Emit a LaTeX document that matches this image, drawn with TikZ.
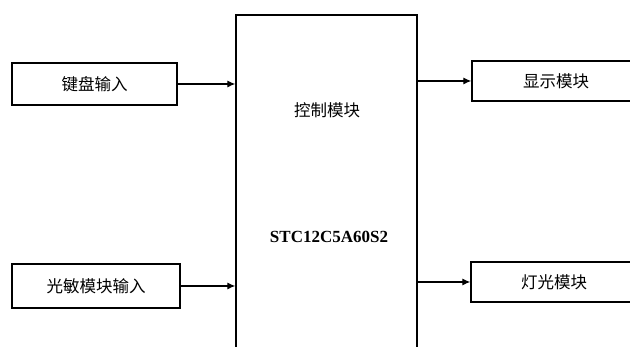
\documentclass[tikz,border=0pt]{standalone}
\usepackage{fontspec}
\setmainfont{Liberation Serif}
\newfontfamily\cjk{Noto Sans CJK SC}
\usetikzlibrary{arrows.meta}
\begin{document}
\begin{tikzpicture}[x=1pt,y=-1pt,
  box/.style={draw, line width=1.3pt, inner sep=0pt, font=\cjk\fontsize{16.5}{16.5}\selectfont},
  lbl/.style={inner sep=0pt},
  link/.style={line width=1.2pt, -{Latex[length=8pt,width=7pt]}}]
\useasboundingbox (0,0) rectangle (630,347);
\clip (0,0) rectangle (630,347);
\node[box, minimum width=165pt, minimum height=42pt] (kb) at (94.5,84) {键盘输入};
\node[box, minimum width=168pt, minimum height=44pt] (ls) at (96,286) {光敏模块输入};
\node[box, minimum width=181pt, minimum height=345pt] (ctrl) at (326.5,187.5) {};
\node[lbl, font=\cjk\fontsize{16.5}{16.5}\selectfont] (ctitle) at (327,110) {控制模块};
\node[lbl, font=\bfseries\fontsize{17}{17}\selectfont] (chip) at (329,237) {STC12C5A60S2};
\node[box, minimum width=168pt, minimum height=40pt] (disp) at (556,81) {显示模块};
\node[box, minimum width=166pt, minimum height=40pt] (light) at (554,282) {灯光模块};
\draw[link] (kb.east) -- (kb.east -| ctrl.west);
\draw[link] (ls.east) -- (ls.east -| ctrl.west);
\draw[link] (ctrl.east |- disp.west) -- (disp.west);
\draw[link] (ctrl.east |- light.west) -- (light.west);
\end{tikzpicture}
\end{document}
